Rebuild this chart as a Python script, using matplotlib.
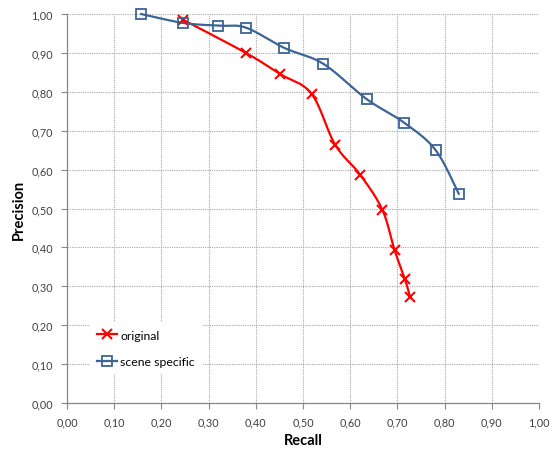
import numpy as np
import matplotlib
matplotlib.use("Agg")
import matplotlib.pyplot as plt

recall_original = [0.246, 0.379, 0.451, 0.518, 0.568, 0.621, 0.668, 0.694, 0.716, 0.727]
precision_original = [0.985, 0.900, 0.846, 0.795, 0.664, 0.587, 0.497, 0.393, 0.318, 0.272]

recall_scene = [0.157, 0.246, 0.320, 0.379, 0.460, 0.543, 0.635, 0.715, 0.781, 0.830]
precision_scene = [1.000, 0.977, 0.970, 0.965, 0.913, 0.872, 0.781, 0.720, 0.650, 0.538]

ticks = [i / 10 for i in range(11)]
tick_labels = [f"{t:.2f}".replace(".", ",") for t in ticks]


def _suavizar(xs, ys, n=20):
    # Catmull-Rom, parecido al suavizado de Excel
    p = np.column_stack([xs, ys])
    p = np.vstack([p[0], p, p[-1]])
    out = []
    for i in range(1, len(p) - 2):
        p0, p1, p2, p3 = p[i - 1], p[i], p[i + 1], p[i + 2]
        t = np.linspace(0, 1, n, endpoint=False)[:, None]
        c = 0.5 * ((2 * p1) + (-p0 + p2) * t + (2 * p0 - 5 * p1 + 4 * p2 - p3) * t ** 2
                   + (-p0 + 3 * p1 - 3 * p2 + p3) * t ** 3)
        out.append(c)
    out.append(p[-2][None, :])
    c = np.vstack(out)
    return c[:, 0], c[:, 1]


plt.rcParams["font.family"] = ["Lato", "DejaVu Sans"]

fig = plt.figure(figsize=(5.53, 4.52), dpi=100)
ax = fig.add_axes([0.1212, 0.1062, 0.8535, 0.8606])

rojo = "#FF0000"
azul = "#3C6496"

sx, sy = _suavizar(recall_original, precision_original)
ax.plot(sx, sy, color=rojo, lw=1.6, zorder=3, clip_on=False)
ax.plot(recall_original, precision_original, ls="none", marker="x", ms=7,
        mew=1.5, color=rojo, zorder=4, clip_on=False)

sx, sy = _suavizar(recall_scene, precision_scene)
ax.plot(sx, sy, color=azul, lw=1.6, zorder=3, clip_on=False)
ax.plot(recall_scene, precision_scene, ls="none", marker="s", ms=7, mew=1.3,
        mfc="none", mec=azul, zorder=4, clip_on=False)

# manejadores de la leyenda
ax.plot([], [], color=rojo, lw=1.6, marker="x", ms=7, mew=1.5, label="original")
ax.plot([], [], color=azul, lw=1.6, marker="s", ms=7, mew=1.3, mfc="none",
        label="scene specific")
handles, labels = ax.get_legend_handles_labels()
leg = ax.legend(handles[-2:], labels[-2:], loc="lower left",
                bbox_to_anchor=(0.035, 0.058), frameon=True, fancybox=False,
                edgecolor="none", framealpha=1.0, fontsize=8.8,
                handlelength=1.6, handletextpad=0.3, labelspacing=1.25,
                borderpad=0.6)
leg.set_zorder(5)

ax.set_xlim(0, 1)
ax.set_ylim(0, 1)
ax.set_xticks(ticks)
ax.set_yticks(ticks)
ax.set_xticklabels(tick_labels)
ax.set_yticklabels(tick_labels)
ax.tick_params(labelsize=7.8, colors="#404040", length=4, width=0.8,
               color="#888888", pad=6)

ax.grid(True, color="#a8a8a8", ls=(0, (1, 1)), lw=0.8)
ax.set_axisbelow(True)
for s in ["top", "right"]:
    ax.spines[s].set_visible(False)
for s in ["left", "bottom"]:
    ax.spines[s].set_color("#888888")
    ax.spines[s].set_linewidth(0.9)

ax.set_xlabel("Recall", fontsize=10.5, fontweight="bold", labelpad=4)
ax.set_ylabel("Precision", fontsize=10.5, fontweight="bold", labelpad=4)

fig.savefig("out.png", dpi=100)
